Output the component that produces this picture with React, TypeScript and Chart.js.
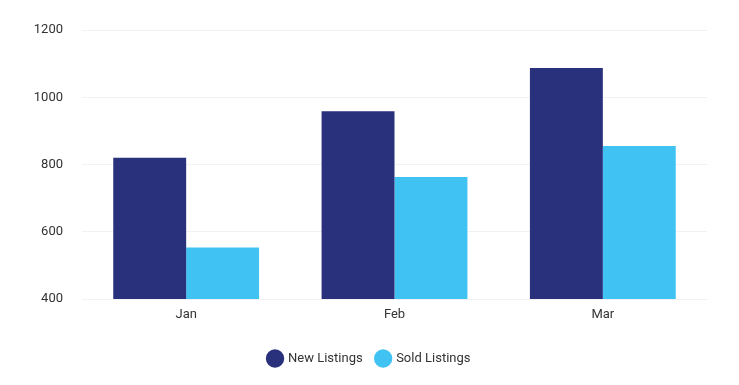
import React, { useEffect, useRef } from "react";
import { Chart, registerables } from "chart.js";

Chart.register(...registerables);

const categories = ["Jan", "Feb", "Mar"];
const newListings = [820, 958, 1087];
const soldListings = [553, 763, 855];
const yTicks = { min: 400, max: 1200, step: 200 };

export default function App() {
  const ref = useRef<HTMLCanvasElement | null>(null);
  useEffect(() => {
    if (!ref.current) return;
    const font = { family: "Roboto", size: 13 };
    const chart = new Chart(ref.current, {
      type: "bar",
      data: {
        labels: categories,
        datasets: [
          {
            label: "New Listings",
            data: newListings,
            backgroundColor: "#29307c",
            borderWidth: 0,
          },
          {
            label: "Sold Listings",
            data: soldListings,
            backgroundColor: "#40c3f2",
            borderWidth: 0,
          },
        ],
      },
      options: {
        animation: false,
        responsive: true,
        maintainAspectRatio: false,
        layout: { padding: { left: 24, right: 24, top: 22, bottom: 2 } },
        datasets: { bar: { categoryPercentage: 0.7, barPercentage: 1.0 } },
        scales: {
          x: {
            grid: { display: false },
            border: { display: false },
            ticks: { color: "#333", font, padding: 0 },
            afterFit: (scale: any) => {
              scale.height = 39;
            },
          },
          y: {
            min: yTicks.min,
            max: yTicks.max,
            grid: { color: "#f2f2f2", drawTicks: false },
            border: { display: false },
            ticks: {
              stepSize: yTicks.step,
              padding: 19,
              color: "#333",
              font,
              callback: (v: any) => String(v),
            },
            afterFit: (scale: any) => {
              scale.width = 50;
              scale.paddingTop = 0;
              scale.paddingBottom = 0;
            },
          },
        },
        plugins: {
          legend: {
            position: "bottom",
            labels: {
              usePointStyle: true,
              pointStyle: "circle",
              padding: 14,
              color: "#333",
              font,
            },
          },
          tooltip: { enabled: false },
        },
      },
    });
    return () => chart.destroy();
  }, []);
  return (
    <div style={{ width: 723, height: 369 }}>
      <canvas ref={ref} />
    </div>
  );
}
